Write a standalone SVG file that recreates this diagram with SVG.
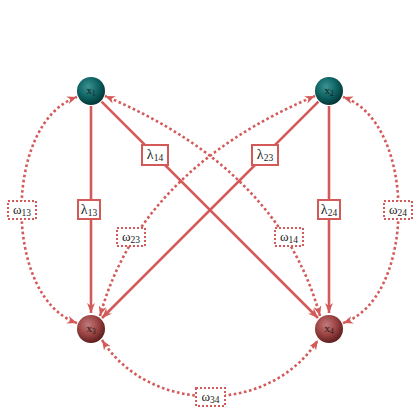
<svg xmlns="http://www.w3.org/2000/svg" width="420" height="420" viewBox="0 0 420 420">
<style>
.solid{fill:none;stroke:#d45a5a;stroke-width:2.6}
.dot{fill:none;stroke:#d45a5a;stroke-width:2.6;stroke-dasharray:2.6 2.6}
.lbox{fill:#fff;stroke:#d45a5a;stroke-width:2}
.wbox{fill:#fff;stroke:#d45a5a;stroke-width:2;stroke-dasharray:2 2}
.lt{font-family:"Liberation Serif","DejaVu Serif",serif;font-size:14px;fill:#222;text-anchor:middle}
.wt{font-family:"Liberation Serif","DejaVu Serif",serif;font-size:13px;fill:#222;text-anchor:middle}
.sub{font-size:9.5px}
.nt{font-family:"Liberation Serif","DejaVu Serif",serif;font-size:11px;fill:#1a1a1a;text-anchor:middle}
.ns{font-size:7.5px}
</style>
<defs>
<radialGradient id="gTeal" cx="40%" cy="35%" r="65%">
<stop offset="0" stop-color="#3d9393"/>
<stop offset="0.55" stop-color="#0f6464"/>
<stop offset="1" stop-color="#053737"/>
</radialGradient>
<radialGradient id="gRed" cx="40%" cy="35%" r="65%">
<stop offset="0" stop-color="#c27a7a"/>
<stop offset="0.55" stop-color="#9c4444"/>
<stop offset="1" stop-color="#5e1f1f"/>
</radialGradient>
<marker id="ah" viewBox="0 0 10 8" refX="10" refY="4" markerWidth="10" markerHeight="8" markerUnits="userSpaceOnUse" orient="auto-start-reverse">
<path d="M0,0 L10,4 L0,8 L3,4 z" fill="#d45a5a"/>
</marker>
</defs>
<g id="connectors">
<path class="solid" d="M91,106 L91,313" marker-end="url(#ah)"/>
<path class="solid" d="M101.6,101.6 L318,318" marker-end="url(#ah)"/>
<path class="solid" d="M318.4,101.6 L102,318" marker-end="url(#ah)"/>
<path class="solid" d="M329,106 L329,313" marker-end="url(#ah)"/>
<path class="dot" d="M77,323 C3,298 3,122 77,97" marker-start="url(#ah)" marker-end="url(#ah)"/>
<path class="dot" d="M343,323 C417,298 417,122 343,97" marker-start="url(#ah)" marker-end="url(#ah)"/>
<path class="dot" d="M102,340 C150,415 270,415 318,340" marker-start="url(#ah)" marker-end="url(#ah)"/>
<path class="dot" d="M100,316 Q140,170 315,96" marker-start="url(#ah)" marker-end="url(#ah)"/>
<path class="dot" d="M320,316 Q280,170 105,96" marker-start="url(#ah)" marker-end="url(#ah)"/>
</g>
<g id="labels">
<g id="l13"><rect class="lbox" x="78" y="200" width="22" height="19"/><text class="lt" x="89" y="214">λ<tspan class="sub" dy="2">13</tspan></text></g>
<g id="l24"><rect class="lbox" x="318" y="200" width="22" height="19"/><text class="lt" x="329" y="214">λ<tspan class="sub" dy="2">24</tspan></text></g>
<g id="l14"><rect class="lbox" x="142" y="145" width="26" height="20"/><text class="lt" x="155" y="159">λ<tspan class="sub" dy="2">14</tspan></text></g>
<g id="l23"><rect class="lbox" x="252" y="145" width="26" height="20"/><text class="lt" x="265" y="159">λ<tspan class="sub" dy="2">23</tspan></text></g>
<g id="w13"><rect class="wbox" x="8" y="201" width="28" height="18"/><text class="wt" x="22" y="214">ω<tspan class="sub" dy="2">13</tspan></text></g>
<g id="w24"><rect class="wbox" x="384" y="201" width="28" height="18"/><text class="wt" x="398" y="214">ω<tspan class="sub" dy="2">24</tspan></text></g>
<g id="w23"><rect class="wbox" x="117" y="228" width="28" height="18"/><text class="wt" x="131" y="241">ω<tspan class="sub" dy="2">23</tspan></text></g>
<g id="w14"><rect class="wbox" x="275" y="228" width="28" height="18"/><text class="wt" x="289" y="241">ω<tspan class="sub" dy="2">14</tspan></text></g>
<g id="w34"><rect class="wbox" x="196" y="388" width="29" height="18"/><text class="wt" x="210.5" y="401">ω<tspan class="sub" dy="2">34</tspan></text></g>
</g>
<g id="x1"><circle cx="91" cy="91" r="14" fill="url(#gTeal)"/><text class="nt" x="91" y="94">x<tspan class="ns" dy="2">1</tspan></text></g>
<g id="x2"><circle cx="329" cy="91" r="14" fill="url(#gTeal)"/><text class="nt" x="329" y="94">x<tspan class="ns" dy="2">2</tspan></text></g>
<g id="x3"><circle cx="91" cy="329" r="14" fill="url(#gRed)"/><text class="nt" x="91" y="332">x<tspan class="ns" dy="2">3</tspan></text></g>
<g id="x4"><circle cx="329" cy="329" r="14" fill="url(#gRed)"/><text class="nt" x="329" y="332">x<tspan class="ns" dy="2">4</tspan></text></g>
</svg>
